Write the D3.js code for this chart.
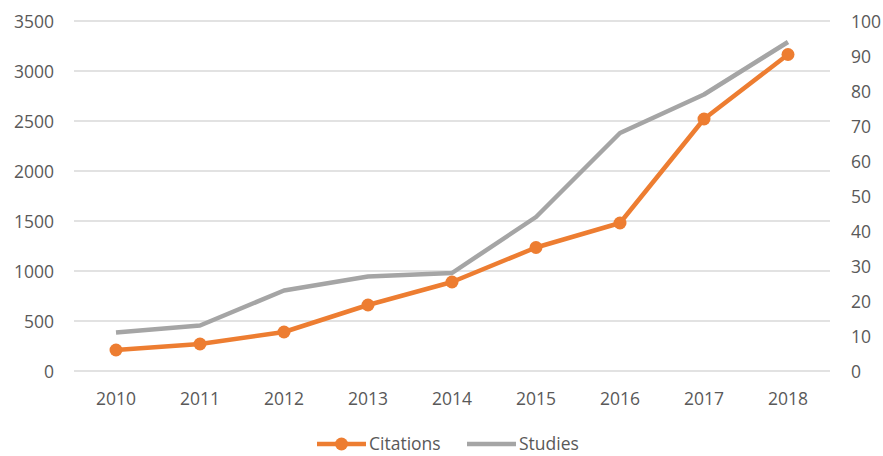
<!DOCTYPE html>
<html>
<head>
<meta charset="utf-8">
<script src="https://cdn.jsdelivr.net/npm/d3@7"></script>
<style>
  body { margin: 0; background: #fff; }
  text { font-family: "Open Sans", sans-serif; fill: #595959; }
</style>
</head>
<body>
<div id="chart"></div>
<script>
// values
const years = ["2010", "2011", "2012", "2013", "2014", "2015", "2016", "2017", "2018"];
const citations = [210, 270, 390, 660, 890, 1235, 1480, 2520, 3165];
const studies = [11, 13, 23, 27, 28, 44, 68, 79, 94];
const leftTicks = [0, 500, 1000, 1500, 2000, 2500, 3000, 3500];
const rightTicks = [0, 10, 20, 30, 40, 50, 60, 70, 80, 90, 100];

const width = 883;
const height = 456;
const margin = {top: 21, right: 53, bottom: 85, left: 74};
const fontSize = "17.5px";

const svg = d3.select("#chart").append("svg")
    .attr("width", width)
    .attr("height", height);

const x = d3.scaleBand()
    .domain(years)
    .range([margin.left, width - margin.right]);

const yLeft = d3.scaleLinear()
    .domain([0, 3500])
    .range([height - margin.bottom, margin.top]);

const yRight = d3.scaleLinear()
    .domain([0, 100])
    .range([height - margin.bottom, margin.top]);

// gridlines
svg.append("g")
    .selectAll("line")
    .data(leftTicks)
    .enter()
    .append("line")
    .attr("x1", margin.left)
    .attr("x2", width - margin.right)
    .attr("y1", d => yLeft(d))
    .attr("y2", d => yLeft(d))
    .attr("stroke", "#d9d9d9")
    .attr("stroke-width", 1.3);

// left axis
svg.append("g")
    .attr("transform", "translate(" + (margin.left - 20) + ",0)")
    .call(d3.axisLeft(yLeft).tickValues(leftTicks).tickFormat(d3.format("d")).tickSize(0).tickPadding(0))
    .call(g => g.select(".domain").remove())
    .selectAll("text")
    .style("font-size", fontSize)
    .attr("dy", "0.36em");

// right axis
svg.append("g")
    .attr("transform", "translate(" + (width - margin.right + 21) + ",0)")
    .call(d3.axisRight(yRight).tickValues(rightTicks).tickFormat(d3.format("d")).tickSize(0).tickPadding(0))
    .call(g => g.select(".domain").remove())
    .selectAll("text")
    .style("font-size", fontSize)
    .attr("dy", "0.36em");

// x axis
svg.append("g")
    .attr("transform", "translate(0," + (height - margin.bottom) + ")")
    .call(d3.axisBottom(x).tickSize(0).tickPadding(22))
    .call(g => g.select(".domain").remove())
    .selectAll("text")
    .style("font-size", fontSize);

const cx = d => x(d) + x.bandwidth() / 2;

// studies line
svg.append("path")
    .datum(studies)
    .attr("fill", "none")
    .attr("stroke", "#a5a5a5")
    .attr("stroke-width", 4.5)
    .attr("stroke-linejoin", "round")
    .attr("d", d3.line()
        .x((d, i) => cx(years[i]))
        .y(d => yRight(d)));

// citations line
svg.append("path")
    .datum(citations)
    .attr("fill", "none")
    .attr("stroke", "#ed7d31")
    .attr("stroke-width", 4.5)
    .attr("stroke-linejoin", "round")
    .attr("d", d3.line()
        .x((d, i) => cx(years[i]))
        .y(d => yLeft(d)));

svg.append("g")
    .selectAll("circle")
    .data(citations)
    .enter()
    .append("circle")
    .attr("cx", (d, i) => cx(years[i]))
    .attr("cy", d => yLeft(d))
    .attr("r", 6.5)
    .attr("fill", "#ed7d31");

// legend
const legend = svg.append("g")
    .attr("transform", "translate(0,444)");

legend.append("line")
    .attr("x1", 317).attr("x2", 366)
    .attr("stroke", "#ed7d31").attr("stroke-width", 4.5);
legend.append("circle")
    .attr("cx", 341.5).attr("r", 6.5)
    .attr("fill", "#ed7d31");
legend.append("text")
    .attr("x", 369).attr("dy", "0.36em")
    .style("font-size", fontSize)
    .text("Citations");

legend.append("line")
    .attr("x1", 467).attr("x2", 516)
    .attr("stroke", "#a5a5a5").attr("stroke-width", 4.5);
legend.append("text")
    .attr("x", 519).attr("dy", "0.36em")
    .style("font-size", fontSize)
    .text("Studies");
</script>
</body>
</html>
